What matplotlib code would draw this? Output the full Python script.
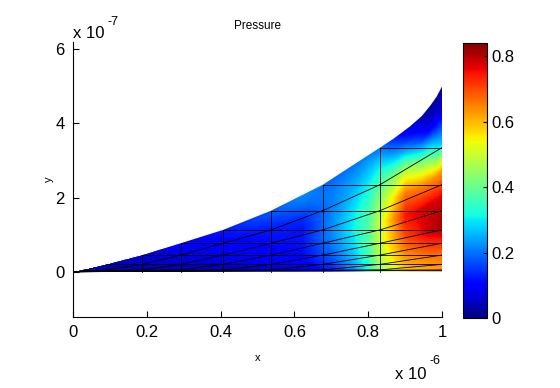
import numpy as np
import matplotlib
matplotlib.use("Agg")
import matplotlib.pyplot as plt
from matplotlib.patches import Polygon

plt.rcParams['font.family'] = ['Liberation Sans', 'DejaVu Sans']

# ---- geometry (x in 1e-6, y in 1e-7) ----
top_x = [0.0, 0.09, 0.187, 0.292, 0.407, 0.537, 0.677, 0.832, 0.87, 0.913, 0.945, 0.968, 0.985, 1.0]
top_y = [0.0, 0.20, 0.45, 0.77, 1.13, 1.65, 2.35, 3.35, 3.60, 3.92, 4.20, 4.48, 4.72, 5.0]

# mesh nodes along the top (self-similar quad mesh)
node_x = [0.03, 0.09, 0.187, 0.292, 0.407, 0.537, 0.677, 0.832, 1.0]
node_h = [0.05, 0.20, 0.45, 0.77, 1.13, 1.65, 2.35, 3.35, 5.0]

# ---- pressure field sampled on (x, eta = y / top(x)) grid ----
field_x = [0.0, 0.2, 0.4, 0.55, 0.62, 0.70, 0.76, 0.80, 0.83, 0.9, 0.96, 1.0]
field_eta = [0.0, 0.1, 0.25, 0.4, 0.55, 0.7, 0.85, 0.93, 1.0]
pressure = [
    # eta: 0    0.1   0.25  0.4   0.55  0.7   0.85  0.93  1.0
    [0.02, 0.02, 0.02, 0.02, 0.02, 0.02, 0.02, 0.02, 0.02],   # x=0
    [0.02, 0.03, 0.04, 0.05, 0.05, 0.06, 0.06, 0.07, 0.07],   # x=0.2
    [0.03, 0.05, 0.07, 0.08, 0.09, 0.10, 0.11, 0.12, 0.12],   # x=0.4
    [0.05, 0.08, 0.10, 0.11, 0.12, 0.13, 0.16, 0.18, 0.18],   # x=0.55
    [0.07, 0.09, 0.11, 0.12, 0.12, 0.14, 0.19, 0.21, 0.22],   # x=0.62
    [0.12, 0.16, 0.20, 0.22, 0.22, 0.21, 0.21, 0.20, 0.19],   # x=0.70
    [0.22, 0.26, 0.29, 0.31, 0.30, 0.27, 0.24, 0.22, 0.20],   # x=0.76
    [0.32, 0.35, 0.38, 0.38, 0.36, 0.32, 0.27, 0.24, 0.21],   # x=0.80
    [0.45, 0.48, 0.50, 0.50, 0.45, 0.38, 0.30, 0.25, 0.20],   # x=0.83
    [0.58, 0.63, 0.70, 0.75, 0.66, 0.50, 0.25, 0.14, 0.08],   # x=0.90
    [0.60, 0.66, 0.78, 0.78, 0.64, 0.40, 0.12, 0.05, 0.03],   # x=0.96
    [0.62, 0.67, 0.82, 0.78, 0.62, 0.26, 0.09, 0.04, 0.02],   # x=1.0
]

cbar_ticks = [0, 0.2, 0.4, 0.6, 0.8]
x_ticks = [0, 0.2, 0.4, 0.6, 0.8, 1]
y_ticks = [0, 2, 4, 6]
vmax = 0.84

fig = plt.figure(figsize=(5.6, 3.88), dpi=100)
ax = fig.add_axes([0.1304, 0.183, 0.659, 0.709])

# render the sampled field as an image (linear in x and eta), masked outside the domain
C = np.array(pressure)            # shape (len(x), len(eta))
fe = np.array(field_eta)
nx, ny = 740, 600
ymax_img = 5.05
px = (np.arange(nx) + 0.5) / nx
py = (np.arange(ny) + 0.5) / ny * ymax_img
img = np.full((ny, nx), np.nan)
for i, xv in enumerate(px):
    col = np.array([np.interp(xv, field_x, C[:, e]) for e in range(len(fe))])
    t = max(np.interp(xv, top_x, top_y), 1e-6)
    eta = py / t
    vals = np.interp(np.clip(eta, 0, 1), fe, col)
    vals[eta > 1.02] = np.nan
    img[:, i] = vals
im = ax.imshow(np.ma.masked_invalid(img), origin='lower', extent=[0, 1, 0, ymax_img],
               cmap='jet', vmin=0, vmax=vmax, aspect='auto', interpolation='nearest')
poly = np.array([[0, 0], [1, 0]] + [[x, y] for x, y in zip(top_x[::-1], top_y[::-1])])
clip = Polygon(poly, closed=True, transform=ax.transData, facecolor='none', edgecolor='none')
ax.add_patch(clip)
im.set_clip_path(clip)

# mesh lines
lw = 0.6
n = len(node_x)
ax.plot([1, 1], [0, node_h[-2]], color='black', lw=lw)
for j in range(n - 1):
    ax.plot([node_x[j], 1.0], [node_h[j], node_h[j]], color='black', lw=lw)
    if j >= 2:
        ax.plot([node_x[j], node_x[j]], [0.0, node_h[j]], color='black', lw=lw)
for k in range(n - 1):
    xs = [0.0]
    ys = [0.0]
    for j in range(n):
        idx = k - (n - 1 - j)
        if idx >= 0:
            xs.append(node_x[j])
            ys.append(node_h[idx])
    ax.plot(xs, ys, color='black', lw=lw)

ax.set_xlim(0, 1)
ax.set_ylim(-1.22, 6.2)
ax.spines['top'].set_visible(False)
ax.spines['right'].set_visible(False)
ax.set_xticks(x_ticks)
ax.set_xticklabels([f"{t:g}" for t in x_ticks])
ax.set_yticks(y_ticks)
ax.set_yticklabels([f"{t:g}" for t in y_ticks])
ax.tick_params(direction='in', length=4, width=0.8, labelsize=12, pad=6)
ax.set_title('Pressure', fontsize=8.5, pad=9.5)
ax.set_xlabel('x', fontsize=8, labelpad=9)
ax.set_ylabel('y', fontsize=8, labelpad=1)

# multiplier texts
fig.text(73 / 560, 1 - 38 / 388, 'x 10', fontsize=12, ha='left', va='baseline')
fig.text(108 / 560, 1 - 25 / 388, '-7', fontsize=9, ha='left', va='baseline')
fig.text(395 / 560, 1 - 379 / 388, 'x 10', fontsize=12, ha='left', va='baseline')
fig.text(429 / 560, 1 - 364 / 388, '-6', fontsize=9, ha='left', va='baseline')

cax = fig.add_axes([0.8268, 0.1804, 0.0429, 0.709])
cb = fig.colorbar(im, cax=cax)
cb.set_ticks(cbar_ticks)
cb.set_ticklabels([f"{t:g}" for t in cbar_ticks])
cax.tick_params(direction='in', length=3, labelsize=12, pad=3)
cb.outline.set_linewidth(0.8)

fig.savefig('out.png', dpi=100)
